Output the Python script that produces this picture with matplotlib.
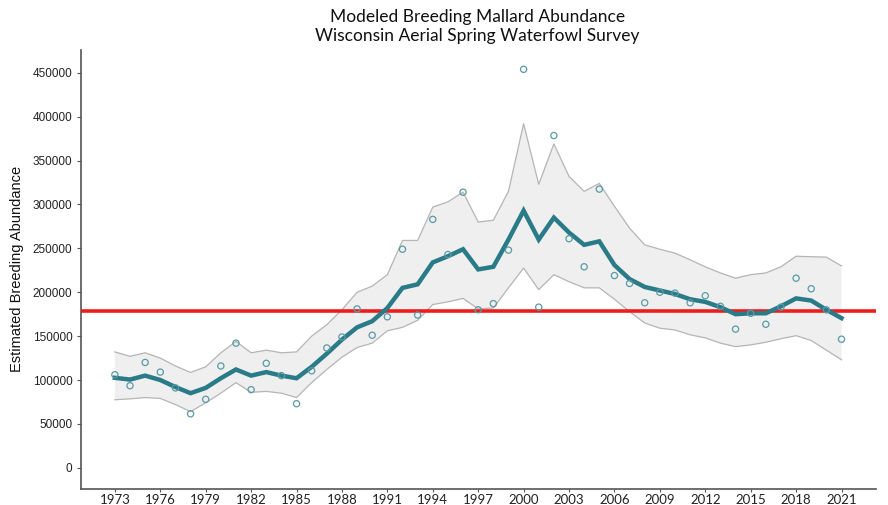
import matplotlib
matplotlib.use("Agg")
import matplotlib.pyplot as plt
import numpy as np

years = list(range(1973, 2022))

# Modeled trend (thousands of birds)
trend = [102.5, 100.5, 105, 100, 92, 85, 91, 102, 112, 105, 109, 105, 102,
         115, 130, 146, 160, 167, 182, 205, 209, 234, 241, 249, 226, 229,
         260, 293, 260, 285, 268, 254, 258, 231, 215, 206, 202, 198, 192, 189,
         183, 175, 176, 176, 184, 193, 190.5, 180, 170.5]

# Survey estimates (thousands)
observed = [106, 93.5, 120, 109, 91, 61.5, 78, 116, 142, 89, 119, 105, 73,
            110.5, 136.5, 149, 181, 151, 172, 249, 174, 283, 243, 314, 180, 187,
            248, 454, 183, 378.5, 261, 229, 317.5, 219, 210, 188, 200, 199,
            188, 196, 184, 158, 176, 163.5, 183, 216, 204, 180, 146.5]

# Credible interval bounds (thousands)
upper = [132, 127, 131, 125, 116, 108.6, 115, 131, 144, 131, 134, 131, 132,
         150, 163, 180, 200, 207, 220, 259, 259, 297, 303, 314, 280, 282,
         315, 392, 323, 369, 332, 315, 324, 298, 273, 254, 249, 244.5, 237,
         229, 222, 216, 220, 222, 229, 241, 240.5, 240, 230]
lower = [77.5, 78.5, 80, 79, 72, 64, 74, 85, 97, 86, 87, 85, 80,
         97, 112, 126, 137, 142, 156, 160, 168, 186, 189, 193, 181, 182,
         205, 227.5, 203, 220, 212, 205, 205, 192, 178, 165, 159, 157, 151.5,
         148, 142, 138, 140, 143, 147, 150.5, 145, 134, 123]

goal = 179000

x_ticks = list(range(1973, 2022, 3))
y_ticks = list(range(0, 450001, 50000))

yr = np.array(years)
tr = np.array(trend) * 1000
ob = np.array(observed) * 1000
up = np.array(upper) * 1000
lo = np.array(lower) * 1000

fig = plt.figure(figsize=(8.88, 5.05), dpi=100)
ax = fig.add_axes([0.091, 0.032, 0.895, 0.869])

teal = "#2a7b88"
ax.fill_between(yr, lo, up, facecolor="#efefef", edgecolor="none", zorder=1)
ax.plot(yr, up, color="#b5b5b5", lw=0.9, zorder=2)
ax.plot(yr, lo, color="#b5b5b5", lw=0.9, zorder=2)
ax.plot(yr, tr, color=teal, lw=3.2, zorder=4, solid_joinstyle="miter")
ax.scatter(yr, ob, s=20, facecolors="none", edgecolors="#5a9aa5",
           linewidths=0.9, zorder=5)
ax.axhline(goal, color="#ee1c1c", lw=2.6, zorder=3)

ax.set_xlim(1970.75, 2023.25)
ax.set_ylim(-24000, 476000)
ax.set_xticks(x_ticks)
ax.set_xticklabels([str(v) for v in x_ticks], fontfamily="Lato", fontsize=9.5,
                   color="#222222")
ax.set_yticks(y_ticks)
ax.set_yticklabels([str(v) for v in y_ticks], fontfamily="Liberation Sans",
                   fontsize=8.5, color="#222222")
ax.tick_params(axis="y", length=3, width=0.8, color="#555555", pad=3)
ax.tick_params(axis="x", length=2.5, width=0.8, color="#555555", pad=1)

for side in ("top", "right"):
    ax.spines[side].set_visible(False)
for side in ("left", "bottom"):
    ax.spines[side].set_color("#555555")
    ax.spines[side].set_linewidth(1.2)

ax.set_ylabel("Estimated Breeding Abundance", fontfamily="Liberation Sans",
              fontsize=10.5, color="#111111", labelpad=6)

fig.text(0.538, 0.947, "Modeled Breeding Mallard Abundance\nWisconsin Aerial Spring Waterfowl Survey",
         ha="center", va="center", fontfamily="Lato", fontsize=12.5,
         color="#111111", linespacing=1.25)

fig.savefig("out.png", dpi=100)
